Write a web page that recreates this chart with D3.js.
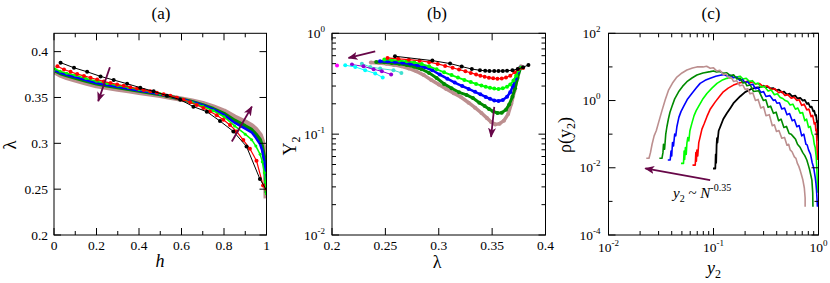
<!DOCTYPE html>
<html>
<head>
<meta charset="utf-8">
<script src="https://cdn.jsdelivr.net/npm/d3@7"></script>
<style>
  body { margin: 0; background: #fff; }
</style>
</head>
<body>
<svg id="fig" width="830" height="283" font-family="Liberation Serif"></svg>
<script>
// ---------- panel (a): lambda vs h ----------
const hBlack = [0.031,0.094,0.156,0.219,0.281,0.344,0.406,0.469,0.531,0.594,0.656,0.719,0.781,0.844,0.906,0.969,1.0];
const lamBlack = [0.388,0.3824,0.378,0.373,0.369,0.365,0.3607,0.3567,0.352,0.3476,0.340,0.3345,0.3243,0.3130,0.2965,0.261,0.249];
const hRed = [0.016,0.047,0.078,0.109,0.141,0.172,0.203,0.234,0.266,0.297,0.328,0.359,0.391,0.422,0.453,0.484,0.516,0.547,0.578,0.609,0.641,0.672,0.703,0.734,0.766,0.797,0.828,0.859,0.891,0.922,0.953,0.984,1.0];
const lamRed = [0.384,0.3805,0.378,0.3755,0.3735,0.3715,0.3695,0.3675,0.3658,0.3642,0.3627,0.3612,0.3597,0.3582,0.3567,0.3552,0.3535,0.3518,0.3498,0.3475,0.3448,0.3418,0.3385,0.3348,0.3305,0.3257,0.3200,0.3130,0.3035,0.2940,0.2810,0.2540,0.248];
const hFine = [0.005,0.03,0.06,0.1,0.15,0.2,0.25,0.3,0.35,0.4,0.45,0.5,0.55,0.6,0.65,0.7,0.75,0.8,0.85,0.9,0.93,0.95,0.97,0.98,0.99,0.995,0.999];
const lamGreen = [0.381,0.3785,0.3765,0.3742,0.3707,0.3676,0.3652,0.3630,0.3608,0.3588,0.3565,0.3540,0.3512,0.3478,0.3445,0.3405,0.3355,0.3290,0.3190,0.3100,0.3040,0.2970,0.2880,0.2800,0.2680,0.2580,0.2450];
const lamBlue = [0.3795,0.377,0.3748,0.3722,0.3690,0.3658,0.3636,0.3616,0.3596,0.3577,0.3557,0.3534,0.3509,0.3480,0.3450,0.3415,0.3370,0.3310,0.3225,0.3160,0.3120,0.3060,0.2990,0.2920,0.2800,0.2680,0.2500];
const lamDkGreen = [0.379,0.3762,0.374,0.3713,0.3680,0.3650,0.3628,0.3608,0.3589,0.3571,0.3552,0.3531,0.3507,0.3481,0.3453,0.3420,0.3377,0.3325,0.3250,0.3190,0.3150,0.3100,0.3040,0.2970,0.2850,0.2720,0.2460];
const lamBrown = [0.378,0.3745,0.372,0.3692,0.3660,0.3630,0.3610,0.3592,0.3575,0.3558,0.3541,0.3523,0.3503,0.3482,0.3460,0.3432,0.3395,0.3350,0.3285,0.3230,0.3190,0.3150,0.3090,0.3020,0.2900,0.2760,0.2400];

// ---------- panel (b): Y2 vs lambda ----------
const bLamBlack = [0.259,0.294,0.3106,0.3215,0.331,0.3386,0.3435,0.3475,0.352,0.356,0.360,0.364,0.369,0.374,0.379,0.384];
const bYBlack = [0.592,0.536,0.501,0.468,0.442,0.43,0.425,0.423,0.422,0.422,0.423,0.425,0.43,0.442,0.46,0.486];
const bLamRed = [0.252,0.262,0.272,0.282,0.291,0.299,0.306,0.313,0.319,0.325,0.330,0.335,0.339,0.343,0.347,0.351,0.355,0.359,0.363,0.367,0.371,0.3745,0.379];
const bYRed = [0.57,0.558,0.548,0.535,0.517,0.497,0.475,0.455,0.437,0.42,0.405,0.391,0.38,0.371,0.363,0.358,0.355,0.357,0.364,0.38,0.41,0.44,0.452];
const bLamGreen = [0.249,0.256,0.263,0.27,0.277,0.284,0.291,0.298,0.305,0.312,0.318,0.324,0.33,0.335,0.34,0.344,0.348,0.352,0.356,0.36,0.364,0.367,0.37,0.3725,0.3745,0.377];
const bYGreen = [0.55,0.545,0.537,0.527,0.515,0.495,0.47,0.44,0.41,0.385,0.364,0.345,0.328,0.315,0.303,0.295,0.288,0.283,0.281,0.285,0.295,0.31,0.34,0.38,0.43,0.455];
const bLamBlue = [0.245,0.252,0.259,0.266,0.273,0.28,0.287,0.294,0.301,0.308,0.315,0.322,0.328,0.334,0.339,0.344,0.348,0.352,0.356,0.36,0.364,0.367,0.3695,0.372,0.374,0.3765];
const bYBlue = [0.528,0.524,0.518,0.51,0.498,0.483,0.46,0.43,0.39,0.355,0.325,0.3,0.281,0.263,0.248,0.234,0.224,0.216,0.213,0.218,0.235,0.26,0.3,0.355,0.41,0.455];
const bLamDkGreen = [0.2414,0.249,0.256,0.263,0.27,0.277,0.284,0.291,0.298,0.305,0.312,0.319,0.326,0.332,0.338,0.343,0.347,0.351,0.355,0.359,0.363,0.366,0.369,0.3715,0.3738,0.3765];
const bYDkGreen = [0.52,0.515,0.508,0.498,0.485,0.465,0.44,0.405,0.36,0.315,0.285,0.26,0.245,0.228,0.205,0.19,0.178,0.168,0.162,0.163,0.175,0.197,0.235,0.285,0.36,0.45];
const bLamBrown = [0.2364,0.244,0.251,0.258,0.265,0.272,0.279,0.286,0.293,0.30,0.307,0.314,0.321,0.328,0.334,0.34,0.345,0.349,0.353,0.357,0.361,0.365,0.368,0.371,0.373,0.3745,0.377];
const bYBrown = [0.513,0.507,0.498,0.486,0.47,0.448,0.42,0.385,0.345,0.31,0.28,0.255,0.232,0.205,0.183,0.162,0.145,0.132,0.125,0.127,0.136,0.158,0.2,0.27,0.343,0.44,0.47];
const bLamMagenta = [0.2047];
const bYMagenta = [0.48];
const bLamCyan = [0.2124,0.2218,0.2311,0.2405,0.2475];
const bYCyan = [0.482,0.464,0.43,0.40,0.365];
const bLamViolet = [0.2187,0.2295,0.239,0.2467,0.2554];
const bYViolet = [0.49,0.47,0.44,0.42,0.39];
const bLamTurq = [0.228,0.2358,0.2451,0.2576,0.265];
const bYTurq = [0.5,0.464,0.447,0.43,0.405];

// ---------- panel (c): rho(y2) vs y2 (noisy histograms) ----------
const cY2Black = [0.0989,0.104,0.105,0.106,0.107,0.108,0.109,0.112,0.116,0.124,0.134,0.145,0.155,0.179,0.200,0.224,0.251,0.282,0.30,0.316,0.33,0.347,0.37,0.398,0.42,0.447,0.47,0.500,0.53,0.562,0.60,0.631,0.67,0.708,0.74,0.776,0.80,0.834,0.86,0.891,0.91,0.933,0.95,0.966,0.975,0.982,0.991,1.0];
const cRhoBlack = [0.0095,0.0095,0.0251,0.0141,0.0447,0.0759,0.0562,0.126,0.166,0.282,0.417,0.603,0.832,1.32,1.78,2.14,2.40,2.51,2.75,2.45,2.6,2.29,2.35,2.0,2.1,1.74,1.85,1.51,1.6,1.32,1.4,1.15,1.2,1.0,1.05,0.794,0.85,0.631,0.66,0.479,0.50,0.355,0.37,0.224,0.25,0.141,0.079,0.063];
const cY2Red = [0.0631,0.0670,0.0679,0.0687,0.0695,0.0708,0.0724,0.0746,0.0776,0.0813,0.0865,0.0933,0.104,0.114,0.124,0.138,0.155,0.179,0.200,0.212,0.224,0.237,0.251,0.275,0.299,0.325,0.355,0.385,0.417,0.445,0.479,0.51,0.550,0.585,0.622,0.655,0.692,0.73,0.774,0.81,0.851,0.88,0.912,0.93,0.944,0.955,0.966,0.977];
const cRhoRed = [0.0120,0.0120,0.0282,0.0158,0.0339,0.0224,0.0562,0.083,0.141,0.200,0.331,0.562,0.912,1.32,1.82,2.34,2.88,3.39,3.55,3.8,3.39,3.6,3.09,3.2,2.57,2.75,2.14,2.25,1.70,1.85,1.41,1.5,1.17,1.25,1.0,1.05,0.72,0.78,0.525,0.56,0.331,0.36,0.20,0.22,0.126,0.14,0.056,0.017];
const cY2Green = [0.0490,0.0518,0.0525,0.0531,0.0540,0.0550,0.0558,0.0569,0.0582,0.0596,0.0622,0.0653,0.0684,0.0719,0.0785,0.0865,0.0966,0.108,0.120,0.134,0.150,0.167,0.179,0.191,0.205,0.219,0.235,0.251,0.266,0.282,0.305,0.331,0.355,0.380,0.405,0.432,0.457,0.482,0.51,0.537,0.57,0.603,0.635,0.670,0.705,0.741,0.77,0.804,0.835,0.865,0.89,0.912,0.93,0.951,0.966,0.973,0.977];
const cRhoGreen = [0.0135,0.0135,0.0316,0.0178,0.0398,0.0251,0.0537,0.0794,0.0631,0.126,0.209,0.355,0.501,0.661,1.07,1.62,2.34,3.24,3.98,4.57,4.9,5.01,5.3,4.37,4.6,3.72,3.9,3.09,3.3,2.51,2.65,1.91,2.05,1.48,1.58,1.23,1.15,1.0,0.93,0.74,0.78,0.55,0.6,0.417,0.44,0.251,0.28,0.158,0.17,0.105,0.085,0.050,0.04,0.0214,0.0085,0.0040,0.0018];
const cY2Blue = [0.0367,0.0387,0.0394,0.0400,0.0407,0.0416,0.0427,0.0437,0.0448,0.0468,0.0490,0.0518,0.0562,0.0622,0.0684,0.0746,0.0832,0.0931,0.105,0.116,0.125,0.135,0.145,0.155,0.166,0.178,0.189,0.200,0.212,0.223,0.237,0.251,0.266,0.282,0.30,0.316,0.345,0.372,0.387,0.402,0.425,0.447,0.475,0.501,0.53,0.562,0.59,0.622,0.655,0.692,0.725,0.759,0.78,0.804,0.84,0.871,0.90,0.929,0.945,0.959,0.977];
const cRhoBlue = [0.0170,0.0170,0.0316,0.0224,0.0562,0.0447,0.100,0.089,0.166,0.316,0.468,0.661,1.07,1.62,2.34,3.24,3.98,4.57,5.25,5.62,5.9,5.37,5.6,4.79,5.0,3.98,4.2,3.39,3.6,2.88,3.05,2.24,2.4,1.74,1.85,1.32,1.4,1.0,1.05,0.83,0.86,0.56,0.6,0.38,0.41,0.251,0.27,0.166,0.18,0.089,0.1,0.050,0.048,0.034,0.025,0.0141,0.010,0.0054,0.0035,0.0020,0.00069];
const cY2DkGreen = [0.0305,0.0323,0.0330,0.0334,0.0342,0.0351,0.0360,0.0372,0.0385,0.0402,0.0427,0.0465,0.0507,0.0558,0.0624,0.0695,0.0794,0.0931,0.1,0.107,0.115,0.124,0.134,0.145,0.156,0.167,0.179,0.191,0.2,0.208,0.224,0.240,0.27,0.299,0.315,0.331,0.35,0.372,0.395,0.417,0.44,0.468,0.495,0.525,0.55,0.578,0.605,0.631,0.67,0.708,0.74,0.774,0.80,0.822,0.845,0.865,0.881,0.885];
const cRhoDkGreen = [0.0191,0.0191,0.0282,0.0501,0.0355,0.100,0.166,0.282,0.447,0.661,1.12,1.82,2.63,3.63,4.68,5.75,6.6,7.24,7.6,7.08,7.3,6.46,6.7,5.5,5.8,4.4,4.6,3.3,3.5,2.75,2.9,1.86,1.95,1.0,1.05,0.63,0.68,0.417,0.45,0.251,0.28,0.158,0.17,0.105,0.1,0.083,0.07,0.050,0.04,0.0282,0.023,0.017,0.012,0.0089,0.006,0.0043,0.0018,0.00069];
const cY2Brown = [0.0229,0.0243,0.0251,0.0260,0.0272,0.0285,0.0302,0.0323,0.0347,0.0372,0.0407,0.0448,0.0501,0.0558,0.0631,0.0695,0.0794,0.086,0.0931,0.1,0.107,0.115,0.124,0.132,0.141,0.148,0.155,0.166,0.178,0.19,0.200,0.212,0.223,0.237,0.251,0.266,0.282,0.3,0.316,0.34,0.363,0.38,0.398,0.42,0.447,0.475,0.501,0.52,0.537,0.56,0.589,0.61,0.631,0.65,0.668,0.69,0.708,0.733,0.746,0.746];
const cRhoBrown = [0.0191,0.0191,0.0282,0.0501,0.0891,0.126,0.240,0.501,1.05,2.0,3.31,5.0,6.6,8.1,9.3,10.0,10.0,10.5,9.1,9.4,7.6,7.9,5.9,6.2,4.6,4.8,3.7,3.9,2.75,2.9,2.14,2.25,1.58,1.68,1.0,1.08,0.60,0.65,0.355,0.38,0.178,0.19,0.120,0.128,0.076,0.08,0.047,0.05,0.034,0.03,0.021,0.019,0.0132,0.011,0.0085,0.006,0.0045,0.0025,0.00126,0.00069];

const MAROON = "#670748";
const svg = d3.select("#fig");
const TOP = 33.3, BOT = 235;

const defs = svg.append("defs");
defs.append("marker")
    .attr("id", "head")
    .attr("viewBox", "0 0 10 8")
    .attr("refX", 9).attr("refY", 4)
    .attr("markerWidth", 10).attr("markerHeight", 8)
    .attr("markerUnits", "userSpaceOnUse")
    .attr("orient", "auto")
  .append("path")
    .attr("d", "M0,0 L10,4 L0,8 L2.5,4 Z")
    .attr("fill", MAROON);

// tick label, either plain text or a power of ten
function putLabel(t, lab) {
  if (typeof lab === "string") { t.text(lab); return; }
  t.append("tspan").text("10");
  t.append("tspan").attr("dy", -6).attr("font-size", 9).text(lab.e);
}

// box with inward ticks on all four sides
function frame(g, x, y, cfg) {
  const [xa, xb] = x.range(), [yb, ya] = y.range();
  g.append("rect")
      .attr("x", xa).attr("y", ya)
      .attr("width", xb - xa).attr("height", yb - ya)
      .attr("fill", "none").attr("stroke", "#000").attr("stroke-width", 1);
  const tk = g.append("g").attr("stroke", "#000").attr("stroke-width", 1);
  const vt = (v, L) => {
    tk.append("line").attr("x1", x(v)).attr("x2", x(v)).attr("y1", yb).attr("y2", yb - L);
    tk.append("line").attr("x1", x(v)).attr("x2", x(v)).attr("y1", ya).attr("y2", ya + L);
  };
  const ht = (v, L) => {
    tk.append("line").attr("y1", y(v)).attr("y2", y(v)).attr("x1", xa).attr("x2", xa + L);
    tk.append("line").attr("y1", y(v)).attr("y2", y(v)).attr("x1", xb).attr("x2", xb - L);
  };
  cfg.xMajor.forEach(v => vt(v, 7));
  (cfg.xMinor || []).forEach(v => vt(v, 4));
  cfg.yMajor.forEach(v => ht(v, 7));
  (cfg.yMinor || []).forEach(v => ht(v, 4));

  cfg.xMajor.forEach((v, i) => {
    const t = g.append("text").attr("x", x(v)).attr("y", cfg.xLabY)
        .attr("text-anchor", "middle").attr("font-size", 13.5);
    putLabel(t, cfg.xLabels[i]);
  });
  cfg.yMajor.forEach((v, i) => {
    const t = g.append("text").attr("x", xa - cfg.yLabGap).attr("y", y(v) + 4.5)
        .attr("text-anchor", "end").attr("font-size", 13.5);
    putLabel(t, cfg.yLabels[i]);
  });
}

function clip(id, x, y) {
  const [xa, xb] = x.range(), [yb, ya] = y.range();
  defs.append("clipPath").attr("id", id)
    .append("rect").attr("x", xa).attr("y", ya).attr("width", xb - xa).attr("height", yb - ya);
  return svg.append("g").attr("clip-path", `url(#${id})`);
}

function series(g, x, y, xs, ys, st) {
  const pts = xs.map((v, i) => [v, ys[i]]);
  if (pts.length > 1) {
    g.append("path").datum(pts)
        .attr("d", d3.line().x(d => x(d[0])).y(d => y(d[1])))
        .attr("fill", "none").attr("stroke", st.color)
        .attr("stroke-width", st.w).attr("stroke-linejoin", "round");
  }
  if (st.r) {
    g.selectAll(null).data(pts.filter(d => !st.noEnd || d[0] < 1)).enter()
      .append("circle")
        .attr("cx", d => x(d[0])).attr("cy", d => y(d[1]))
        .attr("r", st.r).attr("fill", st.color);
  }
}

function arrow(x, y, from, to) {
  svg.append("line")
      .attr("x1", x(from[0])).attr("y1", y(from[1]))
      .attr("x2", x(to[0])).attr("y2", y(to[1]))
      .attr("stroke", MAROON).attr("stroke-width", 1.8)
      .attr("marker-end", "url(#head)");
}

function title(cx, s) {
  svg.append("text").attr("x", cx).attr("y", 19).attr("text-anchor", "middle")
     .attr("font-size", 17).text(s);
}

const minorLog = decs => decs.flatMap(d => [2,3,4,5,6,7,8,9].map(k => d * k));

// ===== panel (a) =====
const xA = d3.scaleLinear().domain([0, 1]).range([54, 266.5]);
const yA = d3.scaleLinear().domain([0.2, 0.42]).range([BOT, TOP]);
const gA = clip("clipA", xA, yA);
series(gA, xA, yA, hFine, lamBrown, {color: "#bc8f8f", w: 5.5});
series(gA, xA, yA, hFine, lamDkGreen, {color: "#008b00", w: 3.5});
series(gA, xA, yA, hFine, lamBlue, {color: "#0000ff", w: 2.5});
series(gA, xA, yA, hFine, lamGreen, {color: "#00ff00", w: 1.5, r: 1.5});
series(gA, xA, yA, hRed, lamRed, {color: "#ff0000", w: 1.2, r: 2, noEnd: true});
series(gA, xA, yA, hBlack, lamBlack, {color: "#000000", w: 1, r: 2, noEnd: true});
frame(svg.append("g"), xA, yA, {
  xMajor: [0, 0.2, 0.4, 0.6, 0.8, 1], xMinor: [0.1, 0.3, 0.5, 0.7, 0.9],
  xLabels: ["0", "0.2", "0.4", "0.6", "0.8", "1"], xLabY: 250,
  yMajor: [0.2, 0.25, 0.3, 0.35, 0.4], yLabels: ["0.2", "0.25", "0.3", "0.35", "0.4"], yLabGap: 6
});
arrow(xA, yA, [0.263, 0.383], [0.208, 0.346]);
arrow(xA, yA, [0.837, 0.302], [0.931, 0.340]);
title(161, "(a)");
svg.append("text").attr("x", 160).attr("y", 267).attr("text-anchor", "middle")
   .attr("font-size", 18).attr("font-style", "italic").text("h");
svg.append("text").attr("transform", "translate(16,145) rotate(-90)")
   .attr("text-anchor", "middle").attr("font-size", 19).text("λ");

// ===== panel (b) =====
const xB = d3.scaleLinear().domain([0.2, 0.4]).range([332, 545.5]);
const yB = d3.scaleLog().domain([0.01, 1]).range([BOT, TOP]);
const gB = clip("clipB", xB, yB);
series(gB, xB, yB, bLamBrown, bYBrown, {color: "#bc8f8f", w: 3.5, r: 2});
series(gB, xB, yB, bLamDkGreen, bYDkGreen, {color: "#008b00", w: 3, r: 2});
series(gB, xB, yB, bLamBlue, bYBlue, {color: "#0000ff", w: 2.5, r: 2});
series(gB, xB, yB, bLamGreen, bYGreen, {color: "#00ff00", w: 1.8, r: 2});
series(gB, xB, yB, bLamRed, bYRed, {color: "#ff0000", w: 1.2, r: 2});
series(gB, xB, yB, bLamBlack, bYBlack, {color: "#000000", w: 1, r: 2});
series(gB, xB, yB, bLamTurq, bYTurq, {color: "#40e0d0", w: 1, r: 2});
series(gB, xB, yB, bLamViolet, bYViolet, {color: "#9400d3", w: 1, r: 2});
series(gB, xB, yB, bLamCyan, bYCyan, {color: "#00ffff", w: 1, r: 2});
series(gB, xB, yB, bLamMagenta, bYMagenta, {color: "#ff00ff", w: 1, r: 2});
frame(svg.append("g"), xB, yB, {
  xMajor: [0.2, 0.25, 0.3, 0.35, 0.4], xLabels: ["0.2", "0.25", "0.3", "0.35", "0.4"], xLabY: 250,
  yMajor: [0.01, 0.1, 1], yMinor: minorLog([0.01, 0.1]),
  yLabels: [{e: "-2"}, {e: "-1"}, {e: "0"}], yLabGap: 7
});
arrow(xB, yB, [0.2405, 0.663], [0.2155, 0.569]);
arrow(xB, yB, [0.352, 0.186], [0.349, 0.094]);
title(437, "(b)");
svg.append("text").attr("x", 437).attr("y", 268).attr("text-anchor", "middle")
   .attr("font-size", 18).text("λ");
const yLabB = svg.append("text").attr("transform", "translate(296,146) rotate(-90)")
   .attr("text-anchor", "middle").attr("font-size", 18);
yLabB.append("tspan").text("Y");
yLabB.append("tspan").attr("dy", 4).attr("font-size", 12).text("2");

// ===== panel (c) =====
const xC = d3.scaleLog().domain([0.01, 1]).range([608.5, 818.5]);
const yC = d3.scaleLog().domain([1e-4, 100]).range([BOT, TOP]);
const gC = clip("clipC", xC, yC);
series(gC, xC, yC, cY2Black, cRhoBlack, {color: "#000000", w: 1.8});
series(gC, xC, yC, cY2Red, cRhoRed, {color: "#ff0000", w: 1.6});
series(gC, xC, yC, cY2Green, cRhoGreen, {color: "#00ff00", w: 1.6});
series(gC, xC, yC, cY2Blue, cRhoBlue, {color: "#0000ff", w: 1.6});
series(gC, xC, yC, cY2DkGreen, cRhoDkGreen, {color: "#008b00", w: 1.6});
series(gC, xC, yC, cY2Brown, cRhoBrown, {color: "#bc8f8f", w: 1.6});
frame(svg.append("g"), xC, yC, {
  xMajor: [0.01, 0.1, 1], xMinor: minorLog([0.01, 0.1]),
  xLabels: [{e: "-2"}, {e: "-1"}, {e: "0"}], xLabY: 252,
  yMajor: [1e-4, 1e-2, 1, 100], yMinor: [1e-3, 0.1, 10],
  yLabels: [{e: "-4"}, {e: "-2"}, {e: "0"}, {e: "2"}], yLabGap: 8
});
arrow(xC, yC, [0.093, 0.0043], [0.0224, 0.0096]);
title(711, "(c)");
const ann = svg.append("text").attr("x", 673).attr("y", 198).attr("font-size", 15);
ann.append("tspan").attr("font-style", "italic").text("y");
ann.append("tspan").attr("dy", 4).attr("font-size", 10).text("2");
ann.append("tspan").attr("dy", -4).text(" ~ ");
ann.append("tspan").attr("font-style", "italic").text("N");
ann.append("tspan").attr("dy", -7).attr("font-size", 10).text("-0.35");
const xLabC = svg.append("text").attr("x", 714).attr("y", 274).attr("text-anchor", "middle")
   .attr("font-size", 18);
xLabC.append("tspan").attr("font-style", "italic").text("y");
xLabC.append("tspan").attr("dy", 4).attr("font-size", 12).text("2");
const yLabC = svg.append("text").attr("transform", "translate(571,135) rotate(-90)")
   .attr("text-anchor", "middle").attr("font-size", 18);
yLabC.append("tspan").text("ρ(y");
yLabC.append("tspan").attr("dy", 4).attr("font-size", 12).text("2");
yLabC.append("tspan").attr("dy", -4).text(")");
</script>
</body>
</html>
